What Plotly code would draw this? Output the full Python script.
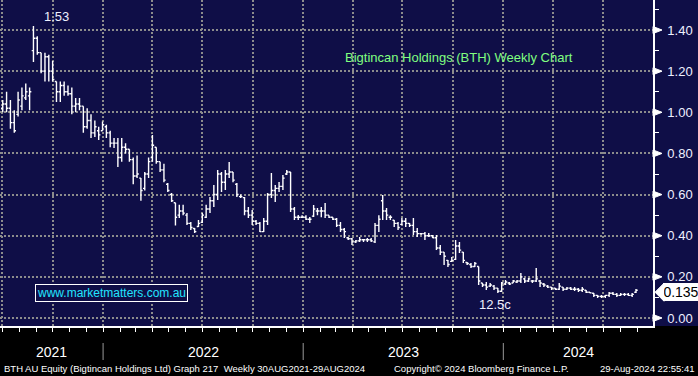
import pandas as pd
import plotly.graph_objects as go

# ---------------- data (weekly OHLC) ----------------
last_week = "2024-08-30"
n_weeks = 166

open_ = [1.02, 1.04, 1.02, 0.95, 0.99, 1.03, 1.07, 1.08, 1.30, 1.36,
         1.29, 1.20, 1.27, 1.20, 1.15, 1.10, 1.13, 1.10, 1.09, 1.03,
         1.04, 1.03, 0.93, 0.96, 0.90, 0.91, 0.91, 0.93, 0.90, 0.85,
         0.85, 0.78, 0.83, 0.82, 0.77, 0.69, 0.68, 0.63, 0.70, 0.78,
         0.83, 0.76, 0.72, 0.65, 0.60, 0.56, 0.50, 0.52, 0.50, 0.46,
         0.435, 0.445, 0.465, 0.49, 0.53, 0.57, 0.60, 0.70, 0.66, 0.70,
         0.71, 0.65, 0.59, 0.585, 0.52, 0.50, 0.47, 0.46, 0.42, 0.47,
         0.60, 0.62, 0.63, 0.64, 0.70, 0.71, 0.53, 0.49, 0.49, 0.49,
         0.48, 0.495, 0.52, 0.52, 0.52, 0.50, 0.49, 0.48, 0.45, 0.43,
         0.39, 0.385, 0.37, 0.375, 0.38, 0.38, 0.38, 0.37, 0.45, 0.57,
         0.52, 0.49, 0.475, 0.46, 0.455, 0.47, 0.46, 0.45, 0.42, 0.41,
         0.41, 0.40, 0.40, 0.39, 0.34, 0.32, 0.28, 0.275, 0.285, 0.35,
         0.32, 0.27, 0.26, 0.25, 0.25, 0.17, 0.16, 0.155, 0.155, 0.145,
         0.13, 0.165, 0.17, 0.17, 0.175, 0.18, 0.19, 0.18, 0.18, 0.18,
         0.18, 0.165, 0.155, 0.15, 0.145, 0.14, 0.15, 0.14, 0.145, 0.14,
         0.14, 0.135, 0.135, 0.125, 0.12, 0.11, 0.105, 0.105, 0.11, 0.12,
         0.115, 0.11, 0.115, 0.115, 0.11, 0.125]

high = [1.06, 1.10, 1.06, 1.01, 1.10, 1.12, 1.14, 1.12, 1.42, 1.37,
        1.29, 1.29, 1.28, 1.25, 1.15, 1.15, 1.15, 1.13, 1.12, 1.07,
        1.07, 1.03, 1.02, 0.99, 0.96, 0.93, 0.955, 0.94, 0.91, 0.875,
        0.875, 0.875, 0.85, 0.82, 0.78, 0.79, 0.68, 0.71, 0.78, 0.89,
        0.83, 0.76, 0.75, 0.656, 0.608, 0.56, 0.55, 0.55, 0.51, 0.467,
        0.438, 0.476, 0.51, 0.55, 0.588, 0.647, 0.72, 0.71, 0.72, 0.758,
        0.71, 0.656, 0.60, 0.588, 0.54, 0.525, 0.476, 0.467, 0.486, 0.608,
        0.705, 0.647, 0.661, 0.695, 0.72, 0.71, 0.54, 0.501, 0.50, 0.50,
        0.491, 0.549, 0.535, 0.54, 0.559, 0.50, 0.49, 0.486, 0.467, 0.438,
        0.394, 0.389, 0.379, 0.394, 0.38, 0.389, 0.389, 0.462, 0.50, 0.598,
        0.535, 0.50, 0.476, 0.467, 0.486, 0.486, 0.462, 0.486, 0.438, 0.413,
        0.418, 0.413, 0.404, 0.404, 0.355, 0.321, 0.282, 0.297, 0.379, 0.369,
        0.321, 0.272, 0.267, 0.272, 0.25, 0.17, 0.175, 0.17, 0.16, 0.146,
        0.175, 0.185, 0.175, 0.185, 0.185, 0.219, 0.194, 0.194, 0.185, 0.243,
        0.185, 0.17, 0.16, 0.151, 0.146, 0.17, 0.151, 0.151, 0.151, 0.151,
        0.146, 0.151, 0.136, 0.126, 0.122, 0.112, 0.112, 0.112, 0.126, 0.126,
        0.122, 0.122, 0.122, 0.122, 0.122, 0.141]

low = [1.00, 1.00, 0.92, 0.90, 0.98, 1.01, 1.06, 1.01, 1.245, 1.28,
       1.19, 1.15, 1.15, 1.15, 1.05, 1.05, 1.08, 1.08, 0.99, 1.00,
       1.01, 0.90, 0.92, 0.875, 0.88, 0.865, 0.91, 0.875, 0.83, 0.826,
       0.734, 0.76, 0.80, 0.76, 0.65, 0.68, 0.57, 0.62, 0.68, 0.76,
       0.75, 0.71, 0.66, 0.613, 0.564, 0.45, 0.486, 0.50, 0.452, 0.428,
       0.413, 0.442, 0.462, 0.486, 0.51, 0.54, 0.574, 0.613, 0.622, 0.68,
       0.66, 0.588, 0.583, 0.50, 0.486, 0.452, 0.452, 0.418, 0.418, 0.452,
       0.583, 0.564, 0.613, 0.622, 0.695, 0.515, 0.476, 0.476, 0.486, 0.476,
       0.462, 0.491, 0.50, 0.49, 0.486, 0.486, 0.476, 0.442, 0.418, 0.389,
       0.379, 0.355, 0.365, 0.369, 0.37, 0.369, 0.369, 0.365, 0.418, 0.476,
       0.476, 0.476, 0.442, 0.428, 0.452, 0.442, 0.442, 0.404, 0.394, 0.404,
       0.379, 0.394, 0.389, 0.331, 0.306, 0.258, 0.248, 0.272, 0.282, 0.316,
       0.267, 0.258, 0.243, 0.248, 0.16, 0.151, 0.136, 0.151, 0.136, 0.122,
       0.126, 0.16, 0.16, 0.17, 0.17, 0.17, 0.17, 0.175, 0.17, 0.175,
       0.151, 0.151, 0.146, 0.136, 0.136, 0.136, 0.131, 0.136, 0.136, 0.131,
       0.126, 0.126, 0.122, 0.12, 0.102, 0.097, 0.097, 0.097, 0.102, 0.112,
       0.102, 0.107, 0.107, 0.107, 0.102, 0.122]

close = [1.04, 1.02, 0.95, 0.91, 1.06, 1.08, 1.10, 1.10, 1.36, 1.29,
         1.20, 1.27, 1.20, 1.16, 1.10, 1.13, 1.10, 1.09, 1.03, 1.04,
         1.03, 0.93, 0.96, 0.90, 0.93, 0.89, 0.94, 0.90, 0.85, 0.85,
         0.78, 0.83, 0.82, 0.77, 0.69, 0.70, 0.62, 0.70, 0.76, 0.84,
         0.76, 0.72, 0.67, 0.62, 0.57, 0.49, 0.52, 0.51, 0.46, 0.44,
         0.42, 0.46, 0.50, 0.53, 0.57, 0.60, 0.70, 0.66, 0.70, 0.71,
         0.67, 0.60, 0.59, 0.52, 0.50, 0.47, 0.46, 0.42, 0.47, 0.60,
         0.62, 0.63, 0.64, 0.68, 0.71, 0.53, 0.49, 0.49, 0.49, 0.48,
         0.48, 0.53, 0.52, 0.52, 0.50, 0.49, 0.48, 0.45, 0.43, 0.42,
         0.385, 0.37, 0.375, 0.38, 0.38, 0.38, 0.375, 0.45, 0.48, 0.52,
         0.50, 0.49, 0.46, 0.44, 0.47, 0.46, 0.45, 0.42, 0.41, 0.41,
         0.40, 0.40, 0.39, 0.34, 0.32, 0.30, 0.26, 0.28, 0.35, 0.33,
         0.28, 0.265, 0.25, 0.265, 0.18, 0.16, 0.15, 0.16, 0.145, 0.13,
         0.17, 0.175, 0.165, 0.18, 0.18, 0.20, 0.18, 0.19, 0.18, 0.19,
         0.17, 0.16, 0.15, 0.145, 0.14, 0.155, 0.14, 0.145, 0.14, 0.14,
         0.135, 0.14, 0.125, 0.122, 0.11, 0.105, 0.105, 0.11, 0.12, 0.115,
         0.11, 0.115, 0.115, 0.11, 0.115, 0.135]

year_labels = ["2021", "2022", "2023", "2024"]
y_ticks = [0.0, 0.2, 0.4, 0.6, 0.8, 1.0, 1.2, 1.4]
last_price_text = "0.135"
last_price = 0.135
peak_text = "1.53"
trough_text = "12.5c"
title_text = "Bigtincan Holdings (BTH) Weekly Chart"
site_text = "www.marketmatters.com.au"
footer_left = "BTH AU Equity (Bigtincan Holdings Ltd) Graph 217  Weekly 30AUG2021-29AUG2024"
footer_mid = "Copyright\u00a9 2024 Bloomberg Finance L.P."
footer_right = "29-Aug-2024 22:55:41"

dates = pd.date_range(end=last_week, periods=n_weeks, freq="W-FRI")

# ---------------- layout geometry ----------------
W, H = 698, 376
ML, MR, MT, MB = 0, 45, 0, 50
PW, PH = W - ML - MR, H - MT - MB
X0 = pd.Timestamp("2021-06-27")
X1 = pd.Timestamp("2024-09-30")
Y0, Y1 = -0.039, 1.546

NAVY = "#0f0e47"
GRID = "#8c8c8c"
LABEL = "#eef0ff"
FONT = "Liberation Sans, Arial, sans-serif"


def px2date(px):
    return X0 + (X1 - X0) * (px / PW)


def px2val(py):
    return Y1 - (Y1 - Y0) * (py / PH)


def val2paper(v):
    return (v - Y0) / (Y1 - Y0)


fig = go.Figure()
fig.add_trace(go.Ohlc(
    x=dates, open=open_, high=high, low=low, close=close,
    increasing=dict(line=dict(color="white", width=1.4)),
    decreasing=dict(line=dict(color="white", width=1.4)),
    tickwidth=0.45, hoverinfo="skip", showlegend=False,
))

shapes = []
# black strip at the bottom
shapes.append(dict(type="rect", xref="paper", yref="paper", x0=-0.01, x1=W / PW + 0.01,
                   y0=-MB / PH - 0.01, y1=0, fillcolor="black", line=dict(width=0), layer="below"))
# right-axis markers at major ticks: small white triangles pointing at the labels
tw = 9 / PW
th = 3.5 / PH
for v in y_ticks:
    p = val2paper(v)
    shapes.append(dict(type="path", xref="paper", yref="paper",
                       path=f"M 1,{p + th} L {1 + tw},{p} L 1,{p - th} Z",
                       fillcolor="white", line=dict(color="white", width=1), layer="above"))
# last price tag pointer (the box itself is the annotation below)
pp = val2paper(last_price) - 2 / PH
hh = 9 / PH
shapes.append(dict(type="path", xref="paper", yref="paper",
                   path=f"M {1 + 2 / PW},{pp} L {1 + 11 / PW},{pp + hh} L {1 + 11 / PW},{pp - hh} Z",
                   fillcolor="white", line=dict(color="white", width=1), layer="above"))
# year separators in the bottom strip
for yr in ["2022-01-01", "2023-01-01", "2024-01-01"]:
    shapes.append(dict(type="line", xref="x", yref="paper", x0=yr, x1=yr,
                       y0=-17 / PH, y1=-34 / PH, line=dict(color="#9a9a9a", width=1)))

annotations = []
bounds = [X0, pd.Timestamp("2022-01-01"), pd.Timestamp("2023-01-01"), pd.Timestamp("2024-01-01"), X1]
for i, lab in enumerate(year_labels):
    mid = bounds[i] + (bounds[i + 1] - bounds[i]) / 2
    annotations.append(dict(x=mid, y=-26 / PH, xref="x", yref="paper", text=lab, showarrow=False,
                            font=dict(family=FONT, size=14, color="white"), yanchor="middle"))

annotations += [
    dict(x=px2date(56), y=px2val(16), xref="x", yref="y", text=peak_text, showarrow=False,
         font=dict(family=FONT, size=13, color=LABEL)),
    dict(x=px2date(459), y=px2val(57), xref="x", yref="y", text=title_text, showarrow=False,
         font=dict(family=FONT, size=13, color="#80ff80")),
    dict(x=px2date(495), y=px2val(304), xref="x", yref="y", text=trough_text, showarrow=False,
         font=dict(family=FONT, size=13, color=LABEL)),
    dict(x=px2date(111), y=px2val(293), xref="x", yref="y", text=site_text, showarrow=False,
         font=dict(family=FONT, size=12, color="#22e5ff"), bgcolor=NAVY,
         bordercolor="white", borderwidth=1, borderpad=1),
    dict(x=1 + 10 / PW, y=pp, xref="paper", yref="paper", text=last_price_text, showarrow=False,
         xanchor="left", yanchor="middle", width=34, height=16, align="center",
         bgcolor="white", bordercolor="white", borderwidth=1, borderpad=0,
         font=dict(family=FONT, size=14, color="black")),
    dict(x=2 / PW, y=-43 / PH, xref="paper", yref="paper", text=footer_left, showarrow=False,
         xanchor="left", yanchor="middle", font=dict(family=FONT, size=9.5, color="white")),
    dict(x=392 / PW, y=-43 / PH, xref="paper", yref="paper", text=footer_mid, showarrow=False,
         xanchor="left", yanchor="middle", font=dict(family=FONT, size=9.5, color="white")),
    dict(x=697 / PW, y=-43 / PH, xref="paper", yref="paper", text=footer_right, showarrow=False,
         xanchor="right", yanchor="middle", font=dict(family=FONT, size=9.5, color="white")),
]

fig.update_layout(
    width=W, height=H,
    margin=dict(l=ML, r=MR, t=MT, b=MB, pad=0),
    paper_bgcolor=NAVY, plot_bgcolor=NAVY,
    showlegend=False,
    shapes=shapes, annotations=annotations,
    xaxis=dict(
        type="date", range=[X0, X1], rangeslider=dict(visible=False),
        tickmode="linear", tick0="2021-07-01", dtick="M3",
        showgrid=True, gridcolor=GRID, gridwidth=1.5, griddash="2px,2px",
        showticklabels=False, ticks="outside", ticklen=4, tickcolor="white", tickwidth=1,
        minor=dict(dtick="M1", tick0="2021-07-01", ticks="outside", ticklen=4,
                   tickcolor="white", tickwidth=1, showgrid=False),
        showline=True, linecolor="white", linewidth=1.5, zeroline=False, fixedrange=True,
    ),
    yaxis=dict(
        side="right", range=[Y0, Y1],
        tickmode="linear", tick0=0, dtick=0.2, tickformat=".2f",
        showgrid=True, gridcolor=GRID, gridwidth=1.5, griddash="2px,2px",
        ticks="outside", ticklen=10, tickcolor=NAVY, tickwidth=1,
        minor=dict(dtick=0.1, tick0=0, ticks="outside", ticklen=4, tickcolor="white",
                   tickwidth=1, showgrid=False),
        tickfont=dict(family=FONT, size=13, color=LABEL),
        showline=True, linecolor="white", linewidth=1.5, zeroline=False, fixedrange=True,
        automargin=False,
    ),
)

fig.write_html(
    "out.html",
    config={"displayModeBar": False},
    post_script="document.body.style.margin='0';document.body.style.overflow='hidden';",
)
